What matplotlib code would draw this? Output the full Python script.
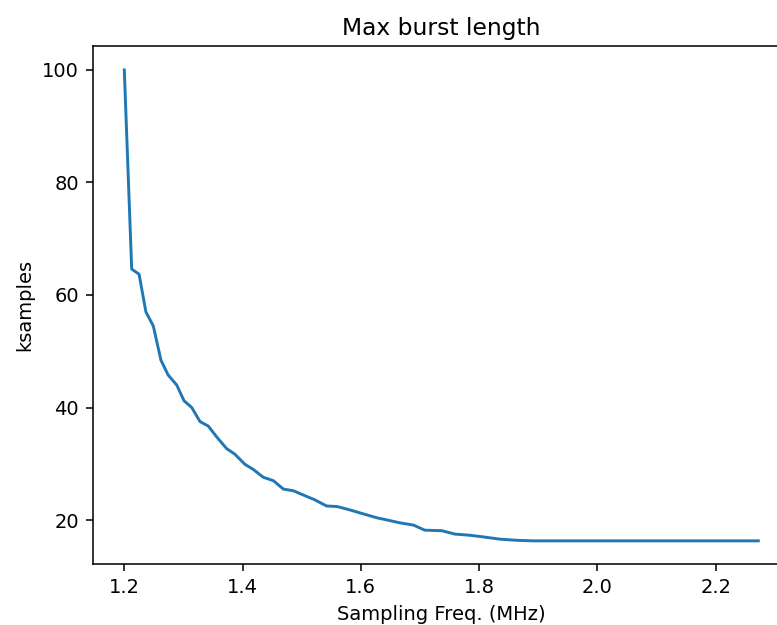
"""Max burst length vs sampling frequency."""

import matplotlib

matplotlib.use("Agg")
import matplotlib.pyplot as plt
import numpy as np

# values
freq_mhz = [
    1.200, 1.2125, 1.225, 1.2365, 1.249, 1.262, 1.274, 1.2886, 1.301, 1.314,
    1.328, 1.342, 1.356, 1.373, 1.387, 1.404, 1.418, 1.435, 1.452, 1.469,
    1.486, 1.506, 1.522, 1.542, 1.560, 1.5815, 1.604, 1.627, 1.649, 1.666,
    1.689, 1.708, 1.737, 1.759, 1.784, 1.807, 1.835, 1.863, 1.891, 2.272,
]
ksamples = [
    100.0, 64.6, 63.7, 57.0, 54.5, 48.4, 45.8, 44.0, 41.2, 40.0,
    37.5, 36.7, 34.8, 32.7, 31.7, 29.9, 29.0, 27.6, 27.0, 25.5,
    25.2, 24.3, 23.6, 22.5, 22.4, 21.8, 21.1, 20.4, 19.9, 19.5,
    19.1, 18.2, 18.1, 17.5, 17.3, 17.0, 16.6, 16.4, 16.3, 16.3,
]

W, H, DPI = 777, 625, 140
fig = plt.figure(figsize=(W / DPI, H / DPI), dpi=DPI)
# axes runs past the right edge, as in the cropped reference
ax = fig.add_axes([92.6 / W, (H - 564.4) / H, 697.4 / W, 518 / H])
ax.plot(np.asarray(freq_mhz), np.asarray(ksamples))
ax.set_title("Max burst length")
ax.set_xlabel("Sampling Freq. (MHz)")
ax.set_ylabel("ksamples")

fig.savefig("out.png", dpi=DPI)
plt.close(fig)
